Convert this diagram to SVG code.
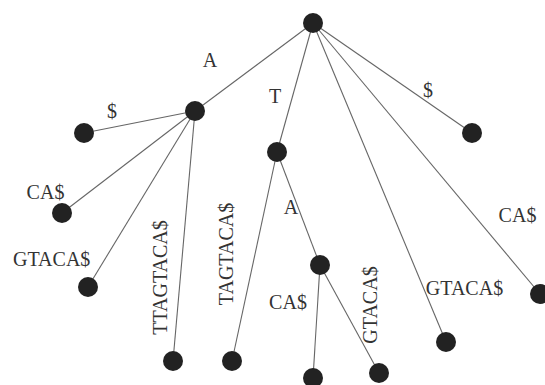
<svg xmlns="http://www.w3.org/2000/svg" width="545" height="385" viewBox="0 0 545 385">
<style>
.e{stroke:#666;stroke-width:1.1;fill:none}
.n{fill:#222}
.t{font-family:"Liberation Serif","Times New Roman",serif;font-size:20px;fill:#333;text-anchor:middle}
</style>
<rect width="545" height="385" fill="#fff"/>
<g id="connectors">
<line class="e" x1="313" y1="23" x2="195" y2="111"/>
<line class="e" x1="313" y1="23" x2="277" y2="152"/>
<line class="e" x1="313" y1="23" x2="446" y2="342"/>
<line class="e" x1="313" y1="23" x2="540" y2="294"/>
<line class="e" x1="313" y1="23" x2="472" y2="133"/>
<line class="e" x1="195" y1="111" x2="84" y2="133"/>
<line class="e" x1="195" y1="111" x2="62" y2="213"/>
<line class="e" x1="195" y1="111" x2="88" y2="287"/>
<line class="e" x1="195" y1="111" x2="173" y2="361"/>
<line class="e" x1="277" y1="152" x2="232" y2="361"/>
<line class="e" x1="277" y1="152" x2="320" y2="265"/>
<line class="e" x1="320" y1="265" x2="313" y2="378"/>
<line class="e" x1="320" y1="265" x2="379" y2="373"/>
</g>
<g id="labels">
<text class="t" x="210" y="67">A</text>
<text class="t" x="112" y="118">$</text>
<text class="t" x="275" y="103">T</text>
<text class="t" x="428" y="97">$</text>
<text class="t" x="45.5" y="199">CA$</text>
<text class="t" x="51.7" y="266">GTACA$</text>
<text class="t" transform="translate(166.5,277.5) rotate(-90)">TTAGTACA$</text>
<text class="t" transform="translate(233,254) rotate(-90)">TAGTACA$</text>
<text class="t" x="291" y="214">A</text>
<text class="t" x="288" y="309">CA$</text>
<text class="t" transform="translate(377,305) rotate(-90)">GTACA$</text>
<text class="t" x="464.5" y="295">GTACA$</text>
<text class="t" x="517.5" y="222">CA$</text>
</g>
<g id="root"><circle class="n" cx="313" cy="23" r="10"/></g>
<g id="nodeA"><circle class="n" cx="195" cy="111" r="10"/></g>
<g id="nodeT"><circle class="n" cx="277" cy="152" r="10"/></g>
<g id="nodeTA"><circle class="n" cx="320" cy="265" r="10"/></g>
<g id="leafA_dollar"><circle class="n" cx="84" cy="133" r="10"/></g>
<g id="leafA_CA"><circle class="n" cx="62" cy="213" r="10"/></g>
<g id="leafA_GTACA"><circle class="n" cx="88" cy="287" r="10"/></g>
<g id="leafA_TTAGTACA"><circle class="n" cx="173" cy="361" r="10"/></g>
<g id="leafT_TAGTACA"><circle class="n" cx="232" cy="361" r="10"/></g>
<g id="leafTA_CA"><circle class="n" cx="313" cy="378" r="10"/></g>
<g id="leafTA_GTACA"><circle class="n" cx="379" cy="373" r="10"/></g>
<g id="leaf_GTACA"><circle class="n" cx="446" cy="342" r="10"/></g>
<g id="leaf_CA"><circle class="n" cx="540" cy="294" r="10"/></g>
<g id="leaf_dollar"><circle class="n" cx="472" cy="133" r="10"/></g>
</svg>
